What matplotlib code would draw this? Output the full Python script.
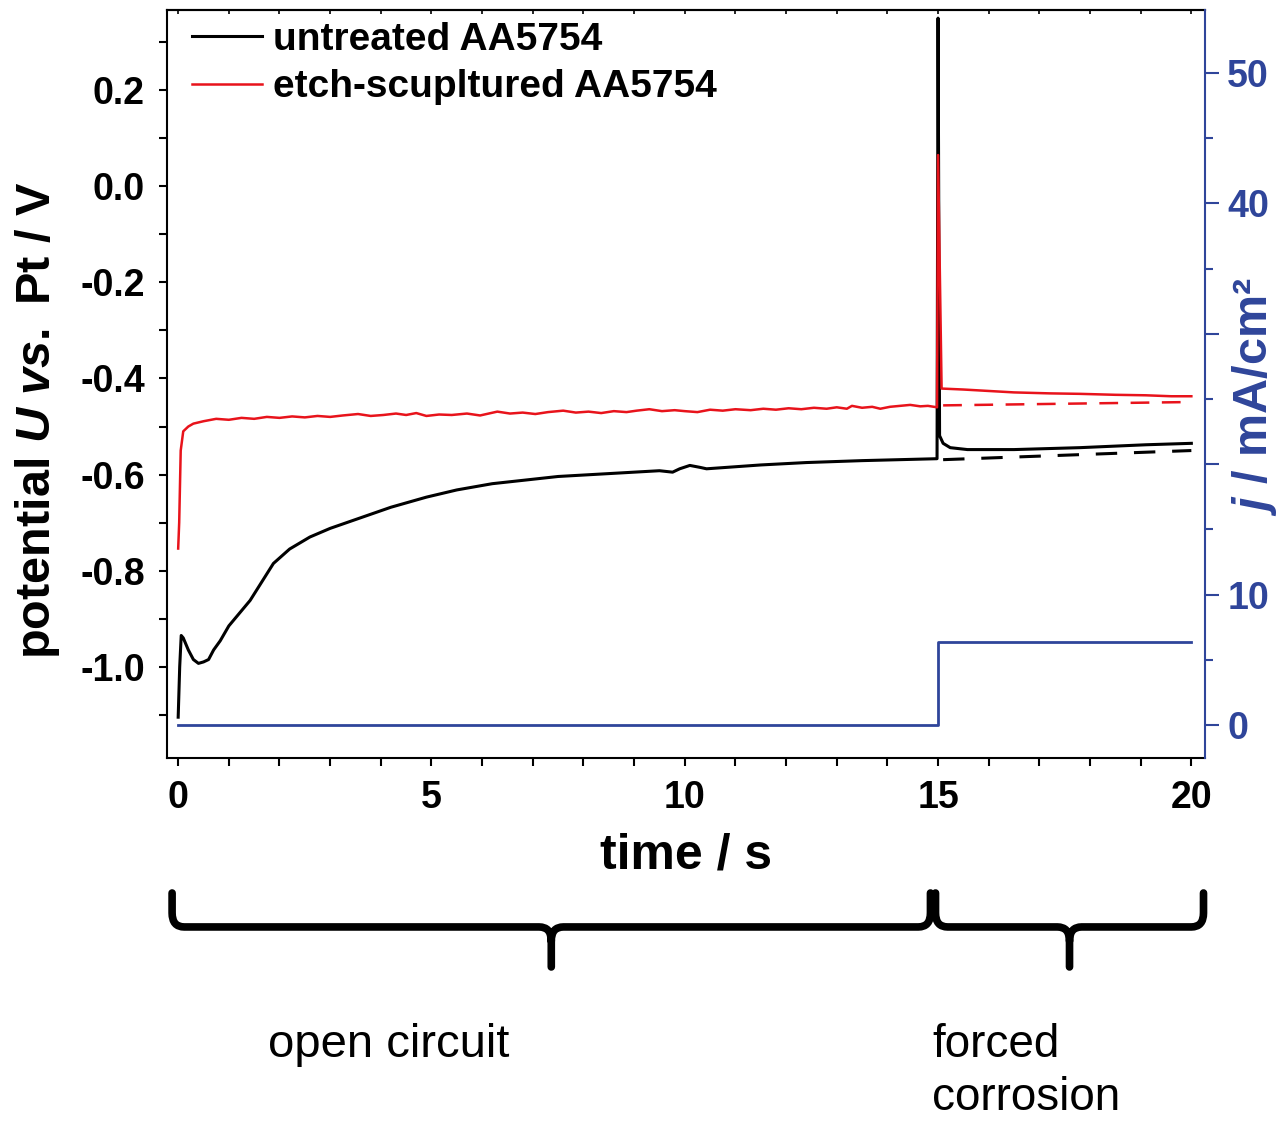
import matplotlib
matplotlib.use("Agg")
import matplotlib.pyplot as plt
import matplotlib.transforms as mtransforms
from matplotlib.path import Path
from matplotlib.patches import PathPatch
from matplotlib.ticker import MultipleLocator, FormatStrFormatter, FuncFormatter
import numpy as np

# ------ potencial (V vs. Pt) ------
t_untreated = [0.0, 0.03, 0.06, 0.1, 0.2, 0.3, 0.4, 0.5, 0.6, 0.7, 0.83, 1.0, 1.42,
               1.88, 2.2, 2.6, 3.0, 3.6, 4.2, 4.9, 5.5, 6.2, 7.5, 8.5, 9.5, 9.76,
               9.9, 10.1, 10.3, 10.43, 11.5, 12.4, 13.5, 14.98,
               15.0, 15.03, 15.1, 15.24, 15.58, 16.5, 17.8, 19.1, 20.0]
u_untreated = [-1.105, -1.0, -0.935, -0.94, -0.965, -0.985, -0.993, -0.99, -0.985, -0.965,
               -0.946, -0.915, -0.862, -0.785, -0.755, -0.73, -0.712, -0.69, -0.668,
               -0.647, -0.632, -0.619, -0.604, -0.598, -0.592, -0.595, -0.588, -0.581,
               -0.585, -0.588, -0.58, -0.575, -0.571, -0.567,
               0.35, -0.519, -0.535, -0.544, -0.548, -0.548, -0.544, -0.538, -0.535]

t_etched = [0.0, 0.02, 0.05, 0.1, 0.2, 0.3, 0.5, 0.75, 1.0, 1.25, 1.5, 1.75, 2.0,
            2.25, 2.5, 2.75, 3.0, 3.25, 3.55, 3.8, 4.05, 4.3, 4.5, 4.7, 4.9, 5.15,
            5.4, 5.7, 5.96, 6.3, 6.55, 6.8, 7.05, 7.3, 7.6, 7.85, 8.1, 8.35, 8.6,
            8.85, 9.05, 9.3, 9.55, 9.8, 10.0, 10.25, 10.5, 10.75, 11.0, 11.3, 11.55,
            11.8, 12.05, 12.3, 12.55, 12.8, 13.0, 13.2, 13.3, 13.5, 13.7, 13.86,
            14.05, 14.25, 14.45, 14.65, 14.8, 14.98,
            15.0, 15.07, 15.5, 16.0, 16.5, 17.2, 17.8, 18.5, 19.1, 19.6, 20.0]
u_etched = [-0.754, -0.70, -0.55, -0.51, -0.50, -0.494, -0.489, -0.484, -0.486, -0.482,
            -0.484, -0.480, -0.482, -0.479, -0.481, -0.478, -0.480, -0.477, -0.474,
            -0.478, -0.476, -0.473, -0.476, -0.472, -0.478, -0.475, -0.476, -0.473,
            -0.477, -0.469, -0.473, -0.471, -0.474, -0.470, -0.467, -0.471, -0.469,
            -0.472, -0.468, -0.470, -0.467, -0.464, -0.468, -0.466, -0.468, -0.470,
            -0.465, -0.467, -0.464, -0.466, -0.463, -0.465, -0.462, -0.464, -0.461,
            -0.463, -0.460, -0.463, -0.457, -0.461, -0.459, -0.463, -0.459, -0.457,
            -0.455, -0.458, -0.457, -0.460,
            0.065, -0.421, -0.423, -0.426, -0.429, -0.431, -0.432, -0.434, -0.435,
            -0.437, -0.437]

# extrapolaciones (lineas discontinuas)
t_extrap = [15.1, 20.0]
u_extrap_untreated = [-0.569, -0.550]
u_extrap_etched = [-0.456, -0.449]

# ------ densidad de corriente (mA/cm2) ------
t_current = [0.0, 15.0, 15.0, 20.0]
j_current = [0.0, 0.0, 6.4, 6.4]
j_labels_shown = [0, 10, 40, 50]

# fases del experimento (s)
phase_start = [-0.12, 14.95]
phase_end = [14.85, 20.24]

BLUE = "#2F459A"
RED = "#E8131B"

plt.rcParams["font.family"] = "Liberation Sans"
plt.rcParams["font.weight"] = "bold"
plt.rcParams["axes.labelweight"] = "bold"
plt.rcParams["axes.unicode_minus"] = False
plt.rcParams["mathtext.fontset"] = "custom"
plt.rcParams["mathtext.rm"] = "Liberation Sans:bold"
plt.rcParams["mathtext.it"] = "Liberation Sans:italic:bold"


def llave(ax, fig, x0, x1, y_top, y_bar, y_bot, r=0.24, c=0.0125, color="black"):
    # dibuja una llave horizontal: x en datos, y en fraccion de figura
    trans = mtransforms.blended_transform_factory(ax.transData, fig.transFigure)
    xm = 0.5 * (x0 + x1)
    verts = [(x0, y_top), (x0, y_bar + c), (x0, y_bar), (x0 + r, y_bar),
             (xm - r, y_bar), (xm, y_bar), (xm, y_bar - c), (xm, y_bot),
             (x1, y_top), (x1, y_bar + c), (x1, y_bar), (x1 - r, y_bar),
             (xm + r, y_bar), (xm, y_bar), (xm, y_bar - c)]
    codes = [Path.MOVETO, Path.LINETO, Path.CURVE3, Path.CURVE3,
             Path.LINETO, Path.CURVE3, Path.CURVE3, Path.LINETO,
             Path.MOVETO, Path.LINETO, Path.CURVE3, Path.CURVE3,
             Path.LINETO, Path.CURVE3, Path.CURVE3]
    patch = PathPatch(Path(verts, codes), transform=trans, fill=False,
                      lw=5.5, edgecolor=color, capstyle="round", joinstyle="round",
                      clip_on=False)
    fig.add_artist(patch)


def main():
    fig = plt.figure(figsize=(12.78, 11.21), dpi=100)
    ax = fig.add_axes([0.1307, 0.3238, 0.8122, 0.6673])

    ax.plot(t_untreated, u_untreated, color="black", lw=2.2, label="untreated AA5754")
    ax.plot(t_etched, u_etched, color=RED, lw=1.8, label="etch-scupltured AA5754")
    ax.plot(t_extrap, u_extrap_untreated, color="black", lw=2.2, dashes=(7, 5.5))
    ax.plot(t_extrap, u_extrap_etched, color=RED, lw=1.8, dashes=(7.5, 5))

    ax.set_xlim(-0.22, 20.27)
    ax.set_ylim(-1.19, 0.367)
    ax.xaxis.set_major_locator(MultipleLocator(5))
    ax.xaxis.set_minor_locator(MultipleLocator(1))
    ax.yaxis.set_major_locator(MultipleLocator(0.2))
    ax.yaxis.set_minor_locator(MultipleLocator(0.1))
    ax.yaxis.set_major_formatter(FormatStrFormatter("%.1f"))
    ax.tick_params(axis="both", which="both", direction="out", width=1.5,
                   length=6, labelsize=27)
    ax.tick_params(axis="x", pad=10)
    ax.tick_params(axis="y", pad=10)
    for s in ["left", "bottom", "top"]:
        ax.spines[s].set_linewidth(1.5)
    ax.spines["right"].set_visible(False)

    top = ax.secondary_xaxis("top")
    top.xaxis.set_major_locator(MultipleLocator(1))
    top.tick_params(direction="in", length=3, width=1.2, labeltop=False)
    top.spines["top"].set_linewidth(1.5)

    ax.set_xlabel("time / s", fontsize=36, labelpad=12)
    ax.set_ylabel("potential $U$ $vs.$ Pt / V", fontsize=35)
    ax.yaxis.set_label_coords(-0.101, 0.452)

    ax.legend(loc="upper left", bbox_to_anchor=(0.0125, 1.0), frameon=False,
              fontsize=28, handlelength=1.8, handletextpad=0.3,
              labelspacing=0.3, borderaxespad=0.0, borderpad=0.3)

    ax2 = ax.twinx()
    ax2.plot(t_current, j_current, color=BLUE, lw=2)
    ax2.set_ylim(-2.53, 54.83)
    ax2.yaxis.set_major_locator(MultipleLocator(10))
    ax2.yaxis.set_minor_locator(MultipleLocator(5))
    ax2.yaxis.set_major_formatter(
        FuncFormatter(lambda v, p: f"{v:.0f}" if round(v) in j_labels_shown else ""))
    ax2.tick_params(axis="y", which="major", length=10, width=1.5, colors=BLUE,
                    labelsize=27, pad=6)
    ax2.tick_params(axis="y", which="minor", length=6, width=1.5, colors=BLUE)
    for s in ["left", "bottom", "top"]:
        ax2.spines[s].set_visible(False)
    ax2.spines["right"].set_color(BLUE)
    ax2.spines["right"].set_linewidth(1.5)
    ax2.set_ylabel("$j$ / mA/cm²", fontsize=35, color=BLUE)
    ax2.yaxis.set_label_coords(1.024, 0.483)

    # llaves y textos de las fases
    for x0, x1 in zip(phase_start, phase_end):
        llave(ax, fig, x0, x1, 0.2034, 0.1731, 0.1374)
    fig.text(0.2097, 0.0678, "open circuit", fontsize=34, fontweight="normal",
             ha="left", va="center")
    fig.text(0.7293, 0.0875, "forced\ncorrosion", fontsize=33, fontweight="normal",
             ha="left", va="top", linespacing=1.28)

    fig.savefig("out.png", dpi=100)


if __name__ == "__main__":
    main()
